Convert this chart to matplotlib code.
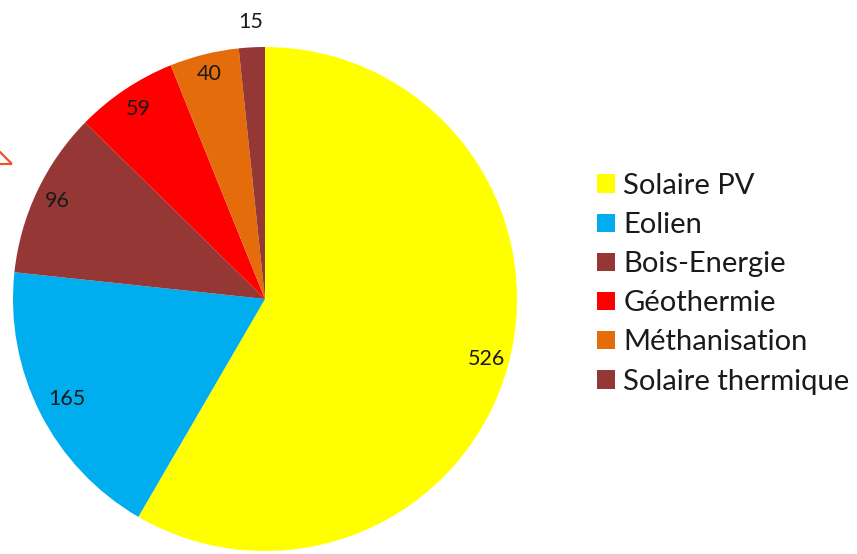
import matplotlib
matplotlib.use("Agg")
import matplotlib.pyplot as plt
import numpy as np
from matplotlib.patches import Patch
from matplotlib.lines import Line2D

categories = ["Solaire PV", "Eolien", "Bois-Energie", "Géothermie", "Méthanisation", "Solaire thermique"]
values = [526, 165, 96, 59, 40, 15]
colors = ["#FFFF00", "#00AEEF", "#953735", "#FF0000", "#E46C0A", "#953735"]
label_dist = [0.91, 0.88, 0.91, 0.905, 0.92, 1.10]

plt.rcParams["font.family"] = ["Lato", "DejaVu Sans"]

W, H = 857, 554
fig = plt.figure(figsize=(W / 100, H / 100), dpi=100)
fig.patch.set_facecolor("white")

cx, cy, r = 265, 299, 252
ax = fig.add_axes([(cx - r) / W, (H - cy - r) / H, 2 * r / W, 2 * r / H])
wedges, _ = ax.pie(values, colors=colors, startangle=90, counterclock=False,
                   radius=1.0, wedgeprops=dict(linewidth=0))
ax.set_xlim(-1, 1)
ax.set_ylim(-1, 1)
ax.set_aspect("equal")
ax.axis("off")

for w, v, d in zip(wedges, values, label_dist):
    mid = np.deg2rad((w.theta1 + w.theta2) / 2)
    ax.text(d * np.cos(mid), d * np.sin(mid), str(v), ha="center", va="center",
            fontsize=15.5, color="#1a1a1a", clip_on=False)

handles = [Patch(facecolor=c, edgecolor="none") for c in colors]
leg = fig.legend(handles, categories, loc="upper left",
                 bbox_to_anchor=(597 / W, 1 - 173 / H), frameon=False,
                 fontsize=21, handlelength=0.6, handleheight=0.6,
                 handletextpad=0.3, labelspacing=0.45, borderaxespad=0,
                 borderpad=0)
for t in leg.get_texts():
    t.set_color("#1a1a1a")

# small orange arrow tip at the left edge
arrow_col = "#F0502A"
fig.add_artist(Line2D([0 / W, 11 / W], [1 - 152 / H, 1 - 163 / H], color=arrow_col, lw=1.6))
fig.add_artist(Line2D([0 / W, 11 / W], [1 - 164 / H, 1 - 164 / H], color=arrow_col, lw=1.6))

fig.savefig("out.png", dpi=100)
